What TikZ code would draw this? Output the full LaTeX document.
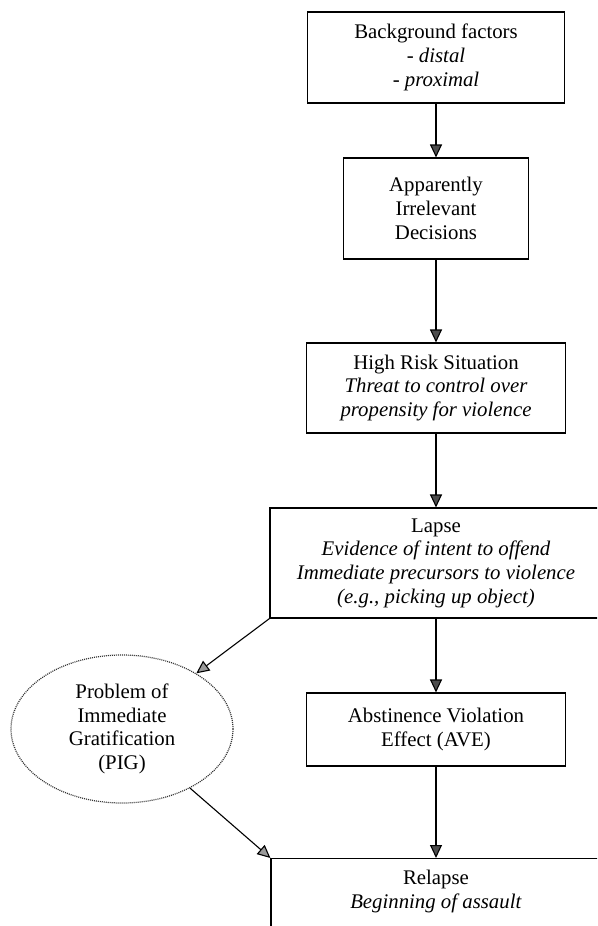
\documentclass[tikz,border=0pt]{standalone}
\usepackage{fontspec}
\setmainfont{Liberation Serif}
\usetikzlibrary{arrows.meta,shapes.geometric}
\begin{document}
\begin{tikzpicture}[x=1pt,y=-1pt,
  txt/.style={font=\fontsize{20.8}{23.7}\selectfont},
  box/.style={txt, draw, line width=1.1pt, align=center, inner sep=0pt},
  arr/.style={line width=1.1pt, -{Triangle[length=13pt,width=12pt,fill=black!70]}},
  arrg/.style={line width=1.1pt, -{Triangle[length=13pt,width=12pt,fill=black!40]}}]
\useasboundingbox (0,0) rectangle (597,926);
\fill[white] (0,0) rectangle (597,926);
\clip (0,0) rectangle (597,926);

\node[box, minimum width=257, minimum height=91] (b1) at (436,57.5)
  {Background factors\\\textit{- distal}\\\textit{- proximal}};
\node[box, minimum width=185, minimum height=101] (b2) at (436,208.5)
  {Apparently\\Irrelevant\\Decisions};
\node[box, minimum width=259, minimum height=90] (b3) at (436,388)
  {High Risk Situation\\\textit{Threat to control over}\\\textit{propensity for violence}};
\node[box, minimum width=332, minimum height=110] (b4) at (436,563)
  {Lapse\\\textit{Evidence of intent to offend}\\\textit{Immediate precursors to violence}\\\textit{(e.g., picking up object)}};
\node[box, minimum width=259, minimum height=73] (b5) at (436,729.5)
  {Abstinence Violation\\Effect (AVE)};
\node[box, anchor=north, minimum width=330, inner ysep=12pt, text depth=80pt] (b6) at (436,858)
  {Relapse\\\textit{Beginning of assault}};
\node[txt, ellipse, draw=black!80, line width=1.2pt, dash pattern=on 1pt off 1pt,
  minimum width=222, minimum height=148, inner sep=0pt, align=center] (pig) at (122,729)
  {Problem of\\Immediate\\Gratification\\(PIG)};

\draw[arr] (b1) -- (b2);
\draw[arr] (b2) -- (b3);
\draw[arr] (b3) -- (b4);
\draw[arr] (b4) -- (b5);
\draw[arr] (b5) -- (b5 |- b6.north);
\draw[arrg] (b4.south west) -- (pig);
\draw[arrg] (pig) -- (b6.north west);
\end{tikzpicture}
\end{document}
